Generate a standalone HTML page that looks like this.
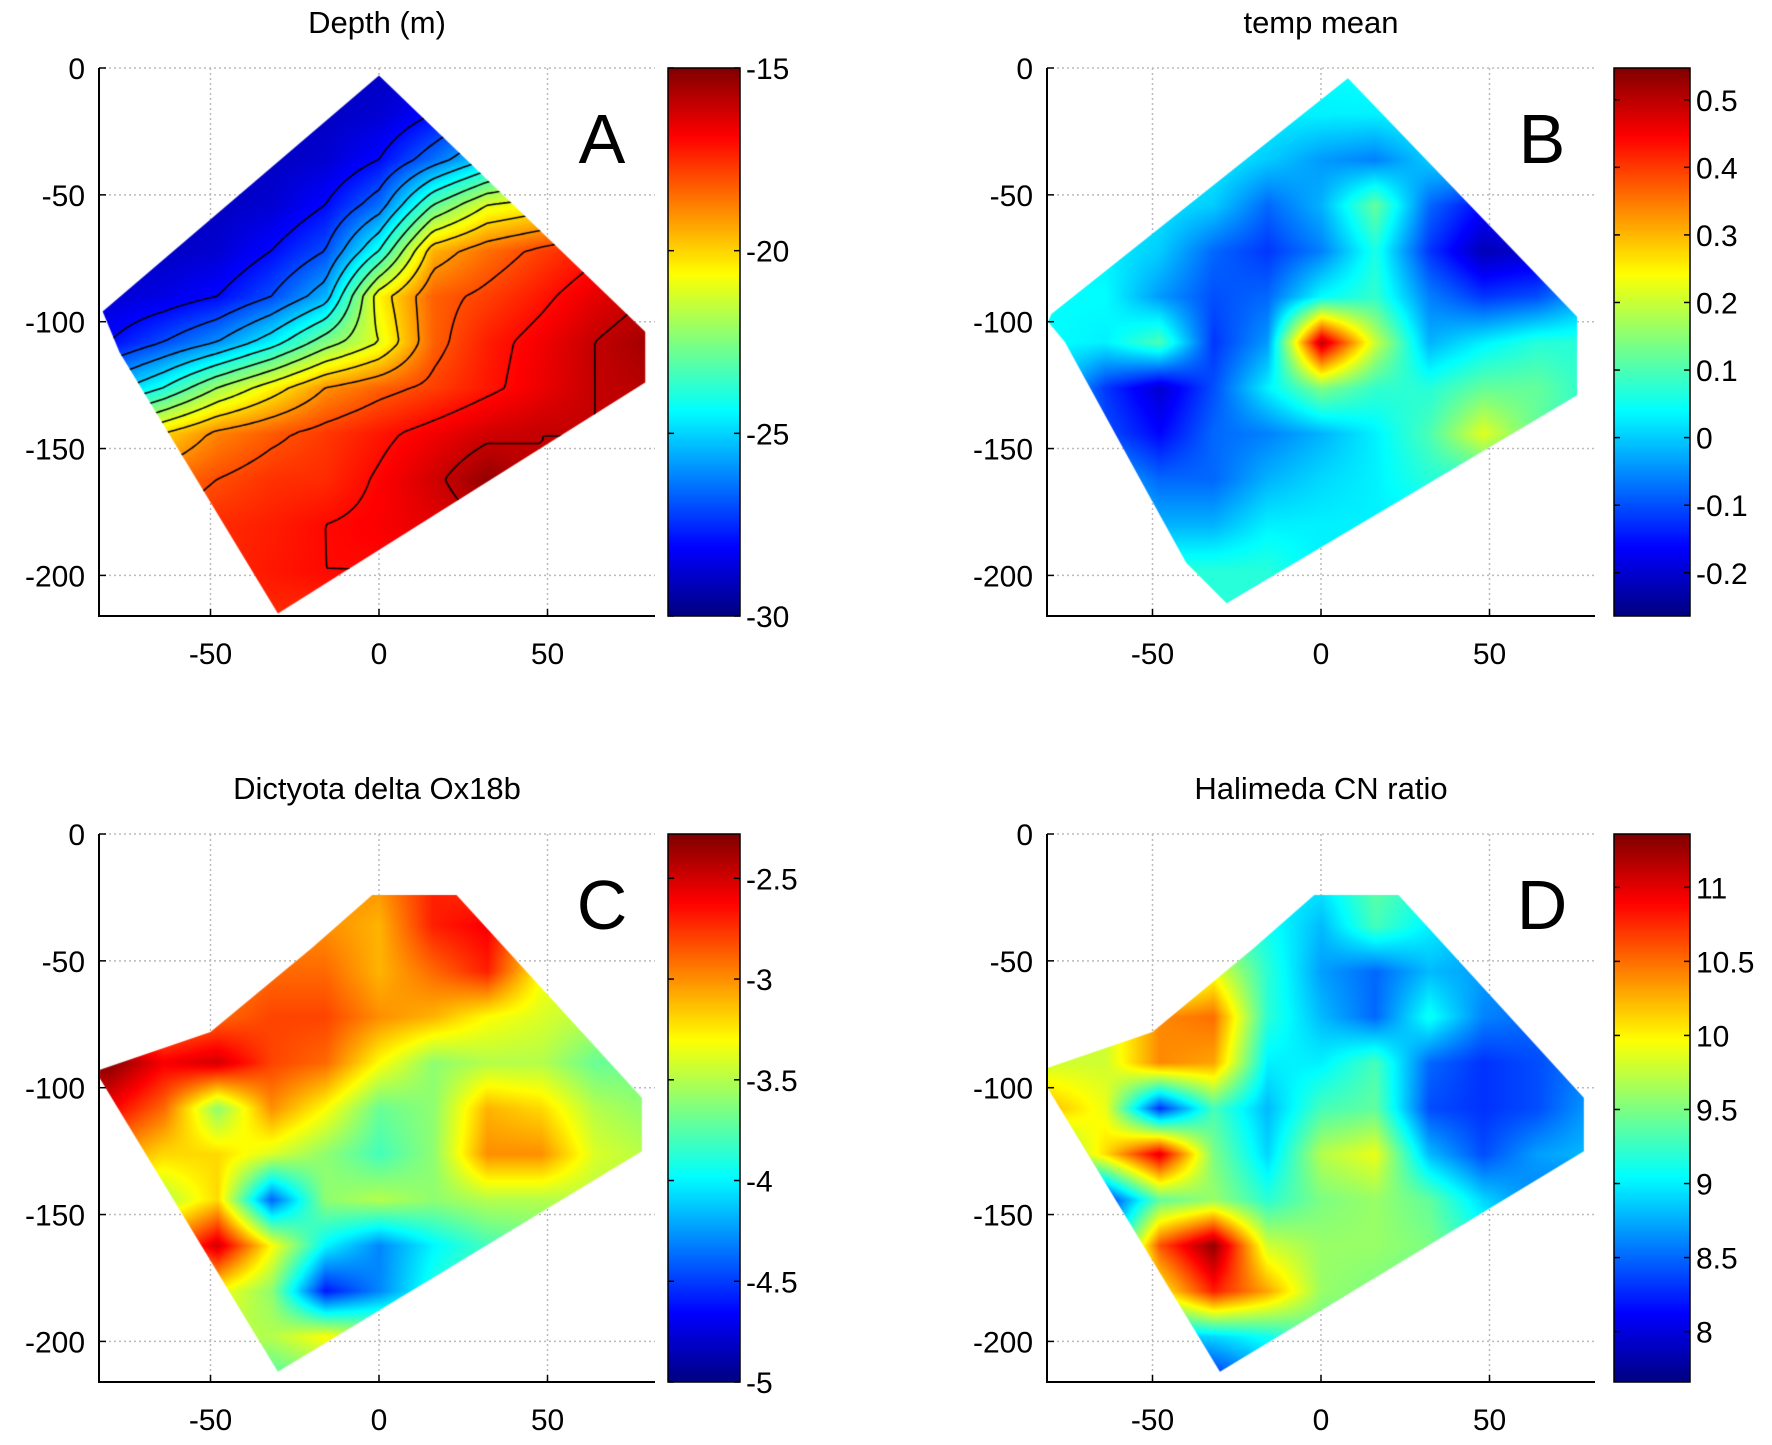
<!DOCTYPE html>
<html><head><meta charset="utf-8">
<style>
html,body{margin:0;padding:0;background:#fff;}
#wrap{position:relative;width:1772px;height:1445px;overflow:hidden;background:#fff;font-family:"Liberation Sans",Arial,sans-serif;}
svg,canvas{position:absolute;left:0;top:0;}
</style></head>
<body>
<div id="wrap">
<svg id="under" width="1772" height="1445"></svg>
<canvas id="cv" width="1772" height="1445"></canvas>
<svg id="over" width="1772" height="1445"></svg>
</div>
<script>
const gridX = [-80,-64,-48,-32,-16,0,16,32,48,64,80];
const gridY = [0,-18,-36,-54,-72,-90,-108,-126,-144,-162,-180,-198,-216];
const xTicks = [-50,0,50];
const yTicks = [0,-50,-100,-150,-200];

const depthValues = [
[-29,-29,-29,-29,-29,-29,-29,-29,-29,-29,-29],
[-29,-29,-29,-29,-29,-28.8,-28,-27,-26,-25,-25],
[-29,-29,-29,-29,-28.8,-28,-26.5,-25,-23.5,-22.5,-22],
[-29,-29,-29,-28.8,-28,-26.5,-23,-21,-20.5,-19.5,-19],
[-29,-29,-28.8,-28,-27,-24,-19.5,-18.5,-17.8,-17.2,-17],
[-28.8,-28.5,-28,-27,-25.5,-20.5,-18.3,-17.8,-17.2,-16.5,-16],
[-28,-27,-26,-24.5,-22.5,-21,-18.3,-17.3,-16.7,-16,-15.5],
[-25.5,-24,-22,-20.5,-19,-18.3,-17.8,-17.2,-16.6,-16,-15.8],
[-21.5,-20,-18.8,-18.2,-17.7,-17.2,-16.7,-16.2,-16,-16,-16],
[-19,-18.5,-18,-17.6,-17.5,-16.9,-16.2,-15.3,-16,-16,-16],
[-18,-18,-17.5,-17.3,-17,-16.8,-16.5,-16,-16,-16,-16],
[-17.5,-17.5,-17.5,-17.2,-17,-17,-17,-17,-17,-17,-17],
[-17.5,-17.5,-17.5,-17.5,-17.5,-17.5,-17.5,-17.5,-17.5,-17.5,-17.5]];
const depthTicks = [-15,-20,-25,-30];
const depthLevels = [-29,-28,-27,-26,-25,-24,-23,-22,-21,-20,-19,-18,-17,-16];

const tempValues = [
[0.03,0.03,0.03,0.03,0.03,0.04,0.05,0.03,0.03,0.03,0.03],
[0.03,0.03,0.03,0.03,0.03,0.03,0.03,0.04,0.03,0.03,0.03],
[0.03,0.03,0.03,0.03,0,-0.04,-0.06,0.0,0.03,0.02,0.02],
[0.03,0.03,0.02,0,-0.08,-0.02,0.12,-0.08,-0.16,-0.08,0.02],
[0.03,0.03,0,-0.08,-0.12,-0.06,0.06,-0.12,-0.22,-0.2,-0.08],
[0.04,0.04,-0.04,-0.1,-0.08,0.04,0.08,-0.06,-0.12,-0.1,-0.02],
[0.04,0.03,0.1,-0.12,-0.04,0.5,0.2,-0.02,0.03,0.07,0.07],
[0.02,-0.12,-0.2,-0.1,0.03,0.14,0.08,0.07,0.12,0.12,0.07],
[0.02,-0.1,-0.16,-0.08,-0.06,-0.02,0.03,0.1,0.22,0.12,0.07],
[0.03,-0.02,-0.08,-0.08,-0.02,0.01,0.03,0.07,0.07,0.07,0.07],
[0.05,0.03,-0.02,-0.02,0.03,0.03,0.03,0.03,0.03,0.03,0.03],
[0.07,0.07,0.07,0.07,0.07,0.03,0.03,0.03,0.03,0.03,0.03],
[0.07,0.07,0.07,0.07,0.07,0.03,0.03,0.03,0.03,0.03,0.03]];
const tempTicks = [0.5,0.4,0.3,0.2,0.1,0,-0.1,-0.2];

const dictValues = [
[-3,-3,-3,-3,-3,-3,-2.7,-2.8,-3,-3,-3],
[-3,-3,-3,-3,-3,-3,-2.7,-2.8,-3,-3,-3],
[-3,-3,-3,-3,-3,-3.1,-2.7,-2.6,-3.1,-3.2,-3.2],
[-3,-3,-3,-2.9,-2.9,-3.1,-2.9,-2.7,-3.3,-3.4,-3.4],
[-3,-3,-2.9,-2.8,-2.8,-3.0,-3.1,-3.3,-3.4,-3.5,-3.5],
[-2.3,-2.6,-2.5,-2.8,-2.9,-3.3,-3.6,-3.5,-3.5,-3.7,-3.7],
[-2.6,-2.9,-3.6,-3.0,-3.3,-3.7,-3.6,-3.1,-3.2,-3.5,-3.6],
[-3.0,-3.2,-3.2,-3.4,-3.6,-3.8,-3.6,-3.0,-3.0,-3.4,-3.5],
[-3.4,-3.5,-3.2,-4.4,-3.6,-3.5,-3.6,-3.5,-3.5,-3.5,-3.5],
[-3.3,-3.0,-2.5,-3.3,-4.0,-4.3,-4.0,-3.8,-3.7,-3.7,-3.7],
[-3.3,-3.3,-3.3,-3.6,-4.6,-4.3,-3.9,-3.7,-3.7,-3.7,-3.7],
[-3.5,-3.5,-3.5,-3.5,-3.3,-3.5,-3.6,-3.6,-3.6,-3.6,-3.6],
[-3.8,-3.8,-3.8,-3.8,-3.7,-3.6,-3.6,-3.6,-3.6,-3.6,-3.6]];
const dictTicks = [-2.5,-3,-3.5,-4,-4.5,-5];

const cnValues = [
[9,9,9,9,9,9,9.4,9.2,9,9,9],
[9,9,9,9,9,9,9.4,9.2,9,9,9],
[9.3,9.3,9.3,9.3,9.1,8.8,9.3,9.0,8.8,8.8,8.8],
[9.5,9.5,9.5,9.9,9.2,8.7,8.5,8.8,8.7,8.6,8.6],
[9.7,9.8,10.4,10.5,9.2,8.8,8.5,9.1,8.6,8.5,8.5],
[9.8,9.8,10.4,10.3,9.0,9.0,9.3,8.5,8.3,8.4,8.6],
[10.2,9.9,8.3,9.3,8.8,9.3,9.4,8.4,8.3,8.4,8.7],
[9.4,10.1,11.0,9.5,8.9,9.7,9.9,8.8,8.4,8.7,8.8],
[8.0,8.3,9.4,9.6,9.2,9.5,9.6,9.4,8.9,8.6,8.4],
[7.9,8.6,10.6,11.3,9.8,9.6,9.6,9.5,9.2,8.8,8.5],
[8.0,9.0,10.0,10.8,10.3,9.6,9.5,9.4,9.3,9.0,9.0],
[8.2,8.5,8.8,8.9,9.1,9.4,9.4,9.4,9.2,9.1,9.0],
[7.9,7.9,8.0,8.2,8.6,8.8,9,9,9,9,9]];
const cnTicks = [11,10.5,10,9.5,9,8.5,8];

const outlineA = [[0,-3],[79,-104],[79,-124],[-30,-215],[-77,-112],[-82,-96]];
const outlineB = [[8,-4],[76,-98],[76,-129],[-28,-211],[-40,-195],[-50,-171],[-76,-108],[-81,-100],[-80,-97]];
const outlineC = [[-2,-24],[23,-24],[78,-104],[78,-125],[-30,-212],[-83,-96],[-83,-93],[-50,-78],[-20,-45]];

const panels = [
 {id:'a',title:'Depth (m)',letter:'A',vals:depthValues,ticks:depthTicks,vmin:-30,vmax:-15,poly:outlineA,contours:depthLevels,
  L:99,R:655,T:68,B:616,x0:379,cbL:668,cbR:740},
 {id:'b',title:'temp mean',letter:'B',vals:tempValues,ticks:tempTicks,vmin:-0.264,vmax:0.547,poly:outlineB,contours:null,
  L:1047,R:1595,T:68,B:616,x0:1321,cbL:1614,cbR:1690},
 {id:'c',title:'Dictyota delta Ox18b',letter:'C',vals:dictValues,ticks:dictTicks,vmin:-5,vmax:-2.28,poly:outlineC,contours:null,
  L:99,R:655,T:834,B:1382,x0:379,cbL:668,cbR:740},
 {id:'d',title:'Halimeda CN ratio',letter:'D',vals:cnValues,ticks:cnTicks,vmin:7.66,vmax:11.36,poly:outlineC,contours:null,
  L:1047,R:1595,T:834,B:1382,x0:1321,cbL:1614,cbR:1690}
];
const YMIN=-216;
const PXU=3.37;

function jet(t){
  t=Math.max(0,Math.min(1,t));
  const c=v=>Math.round(255*Math.max(0,Math.min(1,v)));
  return [c(1.5-Math.abs(4*t-3)),c(1.5-Math.abs(4*t-2)),c(1.5-Math.abs(4*t-1))];
}
function sample(g,x,y){
  let fx=(x-gridX[0])/(gridX[1]-gridX[0]);
  let fy=(gridY[0]-y)/(gridY[0]-gridY[1]);
  fx=Math.max(0,Math.min(gridX.length-1.0001,fx));
  fy=Math.max(0,Math.min(gridY.length-1.0001,fy));
  const i=Math.floor(fx),j=Math.floor(fy),u=fx-i,v=fy-j;
  return g[j][i]*(1-u)*(1-v)+g[j][i+1]*u*(1-v)+g[j+1][i]*(1-u)*v+g[j+1][i+1]*u*v;
}
const NS='http://www.w3.org/2000/svg';
function el(parent,tag,attrs,text){
  const e=document.createElementNS(NS,tag);
  for(const k in attrs)e.setAttribute(k,attrs[k]);
  if(text!==undefined)e.textContent=text;
  parent.appendChild(e);return e;
}
const under=document.getElementById('under'),over=document.getElementById('over');
const ctx=document.getElementById('cv').getContext('2d');

panels.forEach(p=>{
  const sx=x=>p.x0+x*PXU;
  const sy=y=>p.T+(y/YMIN)*(p.B-p.T);
  const ix=px=>(px-p.x0)/PXU;
  const iy=py=>(py-p.T)/(p.B-p.T)*YMIN;
  const gg=el(under,'g',{});
  
  
  xTicks.forEach(t=>el(gg,'line',{x1:sx(t),x2:sx(t),y1:p.T,y2:p.B,stroke:'#bbb','stroke-width':1.5,'stroke-dasharray':'2,3'}));
  yTicks.forEach(t=>el(gg,'line',{x1:p.L,x2:p.R,y1:sy(t),y2:sy(t),stroke:'#bbb','stroke-width':1.5,'stroke-dasharray':'2,3'}));
  ctx.save();
  ctx.beginPath();
  p.poly.forEach((q,k)=>k?ctx.lineTo(sx(q[0]),sy(q[1])):ctx.moveTo(sx(q[0]),sy(q[1])));
  ctx.closePath();ctx.clip();
  const W=p.R-p.L,H=p.B-p.T;
  const img=ctx.createImageData(W,H);
  for(let py=0;py<H;py++)for(let px=0;px<W;px++){
    const v=sample(p.vals,ix(p.L+px),iy(p.T+py));
    const c=jet((v-p.vmin)/(p.vmax-p.vmin));
    const o=(py*W+px)*4;img.data[o]=c[0];img.data[o+1]=c[1];img.data[o+2]=c[2];img.data[o+3]=255;
  }
  const tmp=document.createElement('canvas');tmp.width=W;tmp.height=H;
  tmp.getContext('2d').putImageData(img,0,0);
  ctx.drawImage(tmp,p.L,p.T);
  if(p.contours){
    ctx.strokeStyle='#000';ctx.lineWidth=1.6;ctx.beginPath();
    const st=4;
    for(let py=p.T;py<p.B;py+=st)for(let px=p.L;px<p.R;px+=st){
      const a=sample(p.vals,ix(px),iy(py)),b=sample(p.vals,ix(px+st),iy(py)),
            c=sample(p.vals,ix(px+st),iy(py+st)),d=sample(p.vals,ix(px),iy(py+st));
      p.contours.forEach(L=>{
        const pts=[];
        if((a<L)!=(b<L))pts.push([px+st*(L-a)/(b-a),py]);
        if((b<L)!=(c<L))pts.push([px+st,py+st*(L-b)/(c-b)]);
        if((c<L)!=(d<L))pts.push([px+st*(L-d)/(c-d),py+st]);
        if((d<L)!=(a<L))pts.push([px,py+st*(L-a)/(d-a)]);
        for(let k=0;k+1<pts.length;k+=2){ctx.moveTo(pts[k][0],pts[k][1]);ctx.lineTo(pts[k+1][0],pts[k+1][1]);}
      });
    }
    ctx.stroke();
  }
  ctx.restore();
  for(let py=p.T;py<p.B;py++){
    const v=p.vmax-(py-p.T+0.5)/(p.B-p.T)*(p.vmax-p.vmin);
    const c=jet((v-p.vmin)/(p.vmax-p.vmin));
    ctx.fillStyle='rgb('+c.join(',')+')';ctx.fillRect(p.cbL,py,p.cbR-p.cbL,1);
  }
  const g=el(over,'g',{'font-family':'"Liberation Sans",Arial,sans-serif',fill:'#000'});
  
  
  el(g,'path',{d:`M${p.L},${p.T}V${p.B}H${p.R}`,fill:'none',stroke:'#000','stroke-width':2});
  const t=el(g,'text',{x:(p.L+p.R)/2,y:p.T-35,'font-size':31,'text-anchor':'middle'},p.title);
  
  
  const lt=el(g,'text',{x:p.R-53,y:p.T+95,'font-size':70,'text-anchor':'middle'},p.letter);
  
  
  xTicks.forEach(v=>{
    el(g,'line',{x1:sx(v),x2:sx(v),y1:p.B,y2:p.B-7,stroke:'#000','stroke-width':1.5});
    const tx=el(g,'text',{x:sx(v),y:p.B+48,'font-size':30,'text-anchor':'middle'},String(v));
    
    
  });
  yTicks.forEach(v=>{
    el(g,'line',{x1:p.L,x2:p.L+7,y1:sy(v),y2:sy(v),stroke:'#000','stroke-width':1.5});
    const ty=el(g,'text',{x:p.L-14,y:sy(v)+11,'font-size':30,'text-anchor':'end'},String(v));
    
    
  });
  el(g,'rect',{x:p.cbL,y:p.T,width:p.cbR-p.cbL,height:p.B-p.T,fill:'none',stroke:'#000','stroke-width':1.5});
  p.ticks.forEach(v=>{
    const y=p.T+(p.vmax-v)/(p.vmax-p.vmin)*(p.B-p.T);
    el(g,'line',{x1:p.cbL,x2:p.cbL+6,y1:y,y2:y,stroke:'#000','stroke-width':1.5});
    el(g,'line',{x1:p.cbR,x2:p.cbR-6,y1:y,y2:y,stroke:'#000','stroke-width':1.5});
    const tc=el(g,'text',{x:p.cbR+6,y:y+11,'font-size':30},String(v));
    
    
  });
});
</script>
</body></html>
